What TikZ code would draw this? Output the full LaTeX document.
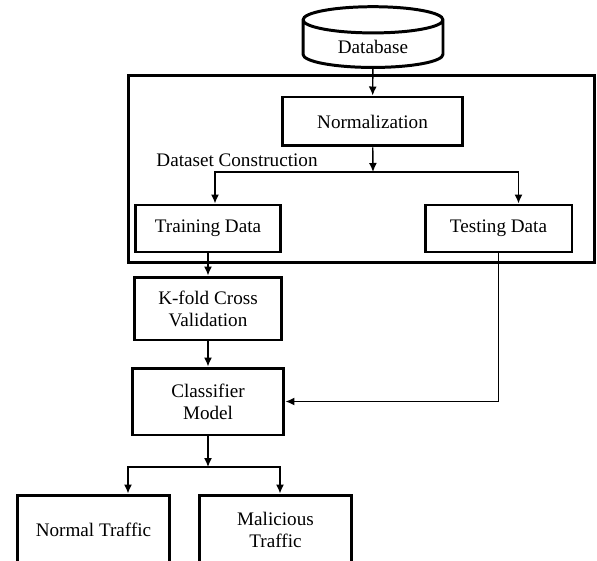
\documentclass[tikz,border=0pt]{standalone}
\usepackage{fontspec}
\setmainfont{Liberation Serif}
\usetikzlibrary{arrows.meta,shapes,positioning}

\begin{document}
\begin{tikzpicture}[x=0.02cm, y=-0.02cm, >={Latex[length=1.8mm,width=1.6mm]},
                      every node/.style = {font=\fontsize{10.9}{12.5}\selectfont},
                      block/.style = {
                        rectangle, draw, line width=1.7pt,
                        align=center, inner sep=0pt
                      },
                      dbase/.style = {
                        cylinder, shape border rotate=90, draw,
                        line width=1.7pt, aspect=0.32,
                        minimum width=2.8cm, minimum height=1.16cm
                      },
                      link/.style = {->, line width=0.8pt}]
    \useasboundingbox (0,0) rectangle (597,560);
    \clip (0,0) rectangle (597,560);

    \node(database) [dbase] at (373,47) {Database};
    \node(dataset) [rectangle, draw, line width=1.7pt,
                    minimum width=9.34cm, minimum height=3.76cm] at (361.5,169) {};
    \node(norm) [block, minimum width=3.62cm, minimum height=0.98cm]
          at (372.5,121.5) {Normalization};
    \node(dslabel) at (237,160) {Dataset Construction};
    \node(train) [block, minimum width=2.92cm, minimum height=0.94cm]
          at (208,228.5) {Training Data};
    \node(test) [block, minimum width=2.94cm, minimum height=0.94cm]
          at (498.5,228.5) {Testing Data};
    \node(kfold) [block, minimum width=2.94cm, minimum height=1.26cm]
          at (208,308.5) {K-fold Cross\\Validation};
    \node(clf) [block, minimum width=3.04cm, minimum height=1.34cm]
          at (208,401.5) {Classifier\\Model};
    \node(normal) [block, minimum width=3.06cm, minimum height=1.4cm]
          at (93.5,530) {Normal Traffic};
    \node(malicious) [block, minimum width=3.06cm, minimum height=1.4cm]
          at (275.5,530) {Malicious\\Traffic};

    \coordinate (split) at (373,172);
    \coordinate (branch) at (208,467);

    % split points sit on the horizontal rails
    \draw[link] (database) -- (norm);
    \draw[link] (norm) -- (split);
    \draw[link] (split) -| ([xshift=0.14cm]train.north);
    \draw[link] (split) -| ([xshift=0.4cm]test.north);
    \draw[link] (train) -- (kfold);
    \draw[link] (kfold) -- (clf);
    \draw[link] (test) |- (clf);
    \draw[link] (clf) -- (branch);
    \draw[link] (branch) -| ([xshift=0.69cm]normal.north);
    \draw[link] (branch) -| ([xshift=0.09cm]malicious.north);
  \end{tikzpicture}
\end{document}
